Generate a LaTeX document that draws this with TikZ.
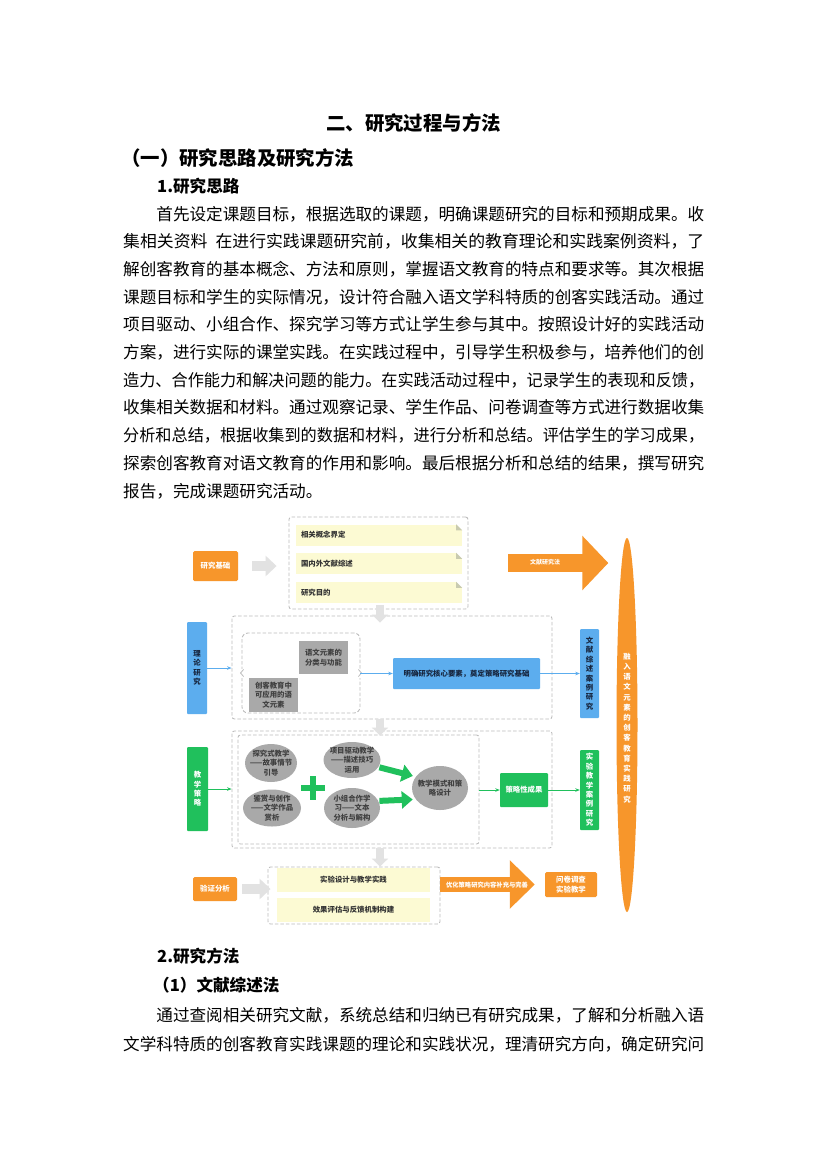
\documentclass[tikz,border=0pt]{standalone}
\usepackage{fontspec}
\usepackage{graphicx}
\setmainfont{Noto Sans CJK SC}
\usetikzlibrary{arrows.meta,shapes.geometric,calc}
\definecolor{orangeC}{HTML}{F7962B}
\definecolor{blueC}{HTML}{5CADEE}
\definecolor{greenC}{HTML}{20C05C}
\definecolor{grayBox}{HTML}{A9A9A9}
\definecolor{noteY}{HTML}{FCFAD3}
\definecolor{foldC}{HTML}{C9CBB0}
\definecolor{dashC}{HTML}{BDBDBD}
\definecolor{fatG}{HTML}{E2E2E2}
\definecolor{navyT}{HTML}{17263F}
\newcommand\bodyfont{\fontsize{16.6}{20}\selectfont}
\newcommand\dfont{\fontsize{7.4}{9.5}\selectfont\bfseries}
\newcommand\vfont{\fontsize{7.4}{9.4}\selectfont\bfseries}
\newcommand\rfont{\fontsize{7.4}{10.2}\selectfont\bfseries}
\newcommand\jl[2]{\resizebox{#1}{\height}{#2}}
\begin{document}
\begin{tikzpicture}[x=1pt,y=-1pt,
  bodyline/.style={anchor=base west,inner sep=0pt,font=\bodyfont},
  headline/.style={anchor=base west,inner sep=0pt,font=\bodyfont\bfseries},
  dbox/.style={draw=dashC,line width=0.9pt,dash pattern=on 3.5pt off 2pt,rounded corners=2.5pt,inner sep=0pt},
  note/.style={fill=noteY,inner xsep=5pt,inner ysep=0pt,text width=156pt,minimum height=21pt,align=left,font=\dfont,text=black!80},
  ybox/.style={fill=noteY,inner sep=0pt,minimum width=153pt,minimum height=24pt,align=center,font=\dfont,text=black!80},
  obox/.style={fill=orangeC,text=white,font=\dfont,rounded corners=1.5pt,inner sep=0pt,align=center},
  bbox/.style={fill=blueC,text=navyT,font=\dfont,rounded corners=1pt,inner sep=0pt,align=center},
  gbox/.style={fill=greenC,text=white,font=\dfont,rounded corners=1pt,inner sep=0pt,align=center},
  vtx/.style={font=\vfont},
  grect/.style={fill=grayBox,text=black!75,font=\dfont,inner sep=0pt,align=center},
  gell/.style={ellipse,fill=grayBox,inner sep=0pt},
  etext/.style={text=black!75,font=\dfont,align=center,inner sep=0pt},
  thinb/.style={blueC,line width=0.8pt,-{Stealth[length=4.5pt,width=3.5pt]}},
  thing/.style={greenC,line width=0.8pt,-{Stealth[length=4.5pt,width=3.5pt]}},
  fatgray/.style={fatG,line width=10pt,-{Triangle[length=11pt,width=20pt]}},
  fatdown/.style={fatG,line width=8pt,-{Triangle[length=8pt,width=16pt]}},
  fatorange/.style={orangeC},
  gfat/.style={greenC,line width=6pt,-{Triangle[length=11pt,width=17pt]},shorten <=1pt,shorten >=3pt}
]
\fill[white] (0,0) rectangle (827,1170);
\useasboundingbox (0,0) rectangle (827,1170);

% ---------- headings and text ----------
\node[anchor=base,inner sep=0pt,font=\fontsize{19.4}{24}\selectfont\bfseries] (title) at (413.5,130) {二、研究过程与方法};
\node[anchor=base west,inner sep=0pt,font=\fontsize{19.4}{24}\selectfont\bfseries] (h1) at (121,165.4) {（一）研究思路及研究方法};
\node[headline] (h2) at (157,192.5) {1.研究思路};
\node[bodyline] (p1) at (156.2,220) {\jl{547.8pt}{首先设定课题目标，根据选取的课题，明确课题研究的目标和预期成果。收}};
\node[bodyline] (p2) at (123,247.7) {\jl{581pt}{集相关资料\hspace{8pt}在进行实践课题研究前，收集相关的教育理论和实践案例资料，了}};
\node[bodyline] (p3) at (123,275.4) {\jl{581pt}{解创客教育的基本概念、方法和原则，掌握语文教育的特点和要求等。其次根据}};
\node[bodyline] (p4) at (123,303.1) {\jl{581pt}{课题目标和学生的实际情况，设计符合融入语文学科特质的创客实践活动。通过}};
\node[bodyline] (p5) at (123,330.8) {\jl{581pt}{项目驱动、小组合作、探究学习等方式让学生参与其中。按照设计好的实践活动}};
\node[bodyline] (p6) at (123,358.5) {\jl{581pt}{方案，进行实际的课堂实践。在实践过程中，引导学生积极参与，培养他们的创}};
\node[bodyline] (p7) at (123,386.2) {\jl{581pt}{造力、合作能力和解决问题的能力。在实践活动过程中，记录学生的表现和反馈，}};
\node[bodyline] (p8) at (123,413.9) {\jl{581pt}{收集相关数据和材料。通过观察记录、学生作品、问卷调查等方式进行数据收集}};
\node[bodyline] (p9) at (123,441.6) {\jl{581pt}{分析和总结，根据收集到的数据和材料，进行分析和总结。评估学生的学习成果，}};
\node[bodyline] (p10) at (123,469.3) {\jl{581pt}{探索创客教育对语文教育的作用和影响。最后根据分析和总结的结果，撰写研究}};
\node[bodyline] (p11) at (123,497) {报告，完成课题研究活动。};

\node[headline] (h3) at (157,962) {2.研究方法};
\node[headline] (h4) at (153,991) {（1）文献综述法};
\node[bodyline] (q1) at (156.2,1021) {\jl{547.8pt}{通过查阅相关研究文献，系统总结和归纳已有研究成果，了解和分析融入语}};
\node[bodyline] (q2) at (123,1050) {\jl{581pt}{文学科特质的创客教育实践课题的理论和实践状况，理清研究方向，确定研究问}};

% ---------- diagram: right ellipse ----------
\node[ellipse,fill=orangeC,minimum width=21pt,minimum height=374pt,inner sep=0pt] (ro) at (627,725) {};
\node[font=\rfont,text=white,align=center,inner sep=0pt] (rot) at (627,728) {融\\入\\语\\文\\元\\素\\的\\创\\客\\教\\育\\实\\践\\研\\究};

% ---------- row 1 ----------
\node[obox,minimum width=45pt,minimum height=30pt] (jc) at (215.5,566) {研究基础};
\node[dbox,minimum width=179pt,minimum height=92pt] (d1) at (378.5,563) {};
\node[note] (n1) at (379,535) {相关概念界定};
\node[note] (n2) at (379,563.5) {国内外文献综述};
\node[note] (n3) at (379,592.5) {研究目的};
\foreach \n in {n1,n2,n3}{
  \fill[white] ($(\n.north east)+(-6,0)$) -- (\n.north east) -- ($(\n.north east)+(0,6)$) -- cycle;
  \fill[foldC] ($(\n.north east)+(-6,0)$) -- ($(\n.north east)+(-6,6)$) -- ($(\n.north east)+(0,6)$) -- cycle;
}
\draw[fatgray,shorten <=14pt,shorten >=12pt] (jc.east) -- (jc.east -| d1.west);
\draw[fatorange,line width=18pt,-{Triangle[length=26pt,width=53pt]},shorten <=40pt,shorten >=8pt] (d1.east) -- (d1.east -| ro.west);
\node[font=\fontsize{6}{7}\selectfont\bfseries,text=white,inner sep=0pt] (wx) at (545,562) {文献研究法};

% ---------- row 2 ----------
\node[bbox,vtx,minimum width=20pt,minimum height=92pt] (lj) at (197,668) {理\\论\\研\\究};
\node[dbox,minimum width=320pt,minimum height=103pt] (d2) at (392,667.5) {};
\node[dbox,rounded corners=6pt,minimum width=118pt,minimum height=80pt] (d2i) at (301,673) {};
\fill[white] ($(d2i.west)+(-2,-4.5)$) rectangle ($(d2i.west)+(2,4.5)$);
\fill[white] ($(d2i.east)+(-2,-4.5)$) rectangle ($(d2i.east)+(2,4.5)$);
\draw[dashC,line width=0.8pt] ($(d2i.west)+(2,-3.5)$) -- ($(d2i.west)+(-1,0)$) -- ($(d2i.west)+(2,3.5)$);
\draw[dashC,line width=0.8pt] ($(d2i.east)+(-2,-3.5)$) -- ($(d2i.east)+(1,0)$) -- ($(d2i.east)+(-2,3.5)$);
\node[grect,minimum width=49pt,minimum height=33pt] (g1) at (323.5,657.5) {语文元素的\\分类与功能};
\node[grect,minimum width=49pt,minimum height=34pt] (g2) at (273.5,695) {创客教育中\\可应用的语\\文元素};
\node[bbox,minimum width=147pt,minimum height=31pt] (bb) at (466.5,673.5) {明确研究核心要素，奠定策略研究基础};
\node[bbox,vtx,minimum width=19pt,minimum height=89pt] (wz) at (589.5,673.5) {文\\献\\综\\述\\案\\例\\研\\究};
\draw[thinb] (lj.east) -- (lj.east -| d2.west);
\draw[thinb] (d2i.east |- bb.west) -- (bb.west);
\draw[thinb] (bb.east) -- (bb.east -| wz.west);

% ---------- row 3 ----------
\node[gbox,vtx,minimum width=21pt,minimum height=84pt] (js) at (197.5,789) {教\\学\\策\\略};
\node[dbox,minimum width=320pt,minimum height=117pt] (d3) at (392,789.5) {};
\node[dbox,minimum width=241pt,minimum height=109pt] (d3i) at (358.5,789.5) {};
\node[gell,minimum width=52pt,minimum height=38pt] (e1) at (271,763) {};
\node[etext] (e1t) at (e1) {探究式教学\\——故事情节\\引导};
\node[gell,minimum width=58pt,minimum height=37pt] (e2) at (272,808) {};
\node[etext] (e2t) at (e2) {鉴赏与创作\\——文学作品\\赏析};
\node[gell,minimum width=57pt,minimum height=36pt] (e3) at (352,760) {};
\node[etext] (e3t) at (e3) {项目驱动教学\\——描述技巧\\运用};
\node[gell,minimum width=56pt,minimum height=40pt] (e4) at (352,808) {};
\node[etext] (e4t) at (e4) {小组合作学\\习——文本\\分析与解构};
\node[gell,minimum width=56pt,minimum height=44pt] (e5) at (440,788) {};
\node[etext] (e5t) at (e5) {教学模式和策\\略设计};
\fill[greenC] (301,785) rectangle (325,791);
\fill[greenC] (310,776) rectangle (316,800);
\draw[gfat] (e3.-15) -- (e5.155);
\draw[gfat] (e4.15) -- (e5.205);
\node[gbox,minimum width=48pt,minimum height=34pt] (cl) at (524,790) {策略性成果};
\node[gbox,vtx,minimum width=19pt,minimum height=80pt] (sy) at (589.5,790) {实\\验\\教\\学\\案\\例\\研\\究};
\draw[thing] (js.east) -- (js.east -| d3.west);
\draw[thing] (d3i.east |- cl.west) -- (cl.west);
\draw[thing] (cl.east) -- (cl.east -| sy.west);

% ---------- row 4 ----------
\node[obox,minimum width=44pt,minimum height=24pt] (yz) at (215,889) {验证分析};
\node[dbox,minimum width=172pt,minimum height=57pt] (d4) at (354,895.5) {};
\node[ybox] (y1) at (353.5,880) {实验设计与教学实践};
\node[ybox] (y2) at (353.5,910) {效果评估与反馈机制构建};
\node[obox,minimum width=52pt,minimum height=25pt] (wj) at (571,884.5) {问卷调查\\实验教学};
\draw[fatgray,shorten <=5pt,shorten >=-3pt] (yz.east) -- (yz.east -| d4.west);
\draw[fatorange,line width=15pt,-{Triangle[length=25pt,width=47pt]},shorten >=10pt] (d4.east |- wj.west) -- (wj.west);
\node[font=\fontsize{6.3}{7}\selectfont\bfseries,text=white,inner sep=0pt] (ot) at (487,885.5) {优化策略研究内容补充与完善};

% ---------- vertical flow arrows ----------
\draw[fatdown] ($(d1.south)+(1.5,-4)$) -- ($(d1.south |- d2.north)+(1.5,7)$);
\draw[fatdown] ($(d2.south)+(-12,0)$) -- ($(d2.south |- d3.north)+(-12,5)$);
\draw[fatdown] ($(d3.south)+(-12,0)$) -- ($(d3.south |- d4.north)+(-12,0)$);
\end{tikzpicture}
\end{document}
